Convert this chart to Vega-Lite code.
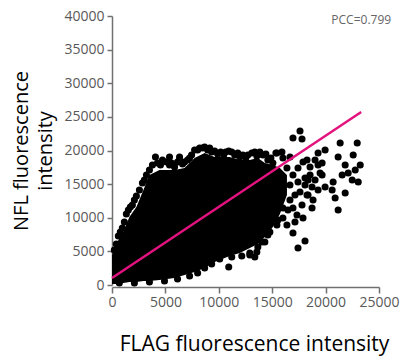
{
  "$schema": "https://vega.github.io/schema/vega-lite/v6.json",
  "width": 267,
  "height": 269,
  "autosize": {"type": "none"},
  "padding": {"left": 112, "top": 16, "right": 22, "bottom": 73},
  "background": "white",
  "config": {
    "view": {"stroke": null},
    "axis": {
      "grid": false,
      "labelFont": "Open Sans",
      "labelFontSize": 14,
      "labelColor": "#595959",
      "labelOverlap": false,
      "labelFlush": false,
      "tickColor": "#707070",
      "domainColor": "#707070",
      "domainWidth": 1.5,
      "tickWidth": 1.5,
      "titleFont": "Open Sans",
      "titleFontWeight": "normal",
      "titleColor": "#000000"
    }
  },
  "datasets": {
    "core": [
      {"x": 0, "lo": 149, "y": 4461},
      {"x": 498, "lo": 149, "y": 6394},
      {"x": 1062, "lo": 297, "y": 7881},
      {"x": 1627, "lo": 446, "y": 10112},
      {"x": 2284, "lo": 446, "y": 11599},
      {"x": 2942, "lo": 595, "y": 14127},
      {"x": 3506, "lo": 595, "y": 16357},
      {"x": 4445, "lo": 744, "y": 17101},
      {"x": 5855, "lo": 1041, "y": 17101},
      {"x": 6795, "lo": 1487, "y": 17398},
      {"x": 7735, "lo": 1933, "y": 18885},
      {"x": 8674, "lo": 2528, "y": 19628},
      {"x": 9614, "lo": 3420, "y": 19034},
      {"x": 11024, "lo": 4312, "y": 19034},
      {"x": 11964, "lo": 4758, "y": 18588},
      {"x": 12904, "lo": 5502, "y": 18588},
      {"x": 13655, "lo": 6097, "y": 18885},
      {"x": 14313, "lo": 7138, "y": 18141},
      {"x": 15065, "lo": 8625, "y": 17844},
      {"x": 15723, "lo": 10558, "y": 17398},
      {"x": 16381, "lo": 13383, "y": 16357}
    ],
    "pts": [
      {"x": 216, "y": 5205}, {"x": 404, "y": 6097}, {"x": 592, "y": 7286}, {"x": 780, "y": 7881},
      {"x": 968, "y": 8476}, {"x": 1156, "y": 9368}, {"x": 1344, "y": 10558}, {"x": 1532, "y": 11153},
      {"x": 1720, "y": 11599}, {"x": 1908, "y": 11896}, {"x": 2096, "y": 12640}, {"x": 2284, "y": 13234},
      {"x": 2566, "y": 14127}, {"x": 2848, "y": 15167}, {"x": 3036, "y": 15614}, {"x": 3224, "y": 16357},
      {"x": 3506, "y": 17101}, {"x": 3787, "y": 17844}, {"x": 4069, "y": 19034}, {"x": 4257, "y": 18141},
      {"x": 4539, "y": 17844}, {"x": 4727, "y": 18588}, {"x": 5103, "y": 18290}, {"x": 5385, "y": 17844},
      {"x": 5385, "y": 19034}, {"x": 5573, "y": 18141}, {"x": 5855, "y": 17547}, {"x": 6137, "y": 18290},
      {"x": 6325, "y": 18588}, {"x": 6325, "y": 19034}, {"x": 6607, "y": 17993}, {"x": 6795, "y": 18290},
      {"x": 7077, "y": 18588}, {"x": 7265, "y": 18885}, {"x": 7453, "y": 19331}, {"x": 7735, "y": 20075},
      {"x": 8017, "y": 20075}, {"x": 8205, "y": 20372}, {"x": 8487, "y": 20372}, {"x": 8674, "y": 20521},
      {"x": 8956, "y": 20075}, {"x": 9144, "y": 20372}, {"x": 9332, "y": 19777}, {"x": 9614, "y": 19926},
      {"x": 9896, "y": 19480}, {"x": 10178, "y": 19777}, {"x": 10460, "y": 19331}, {"x": 10648, "y": 19777},
      {"x": 10930, "y": 19926}, {"x": 11212, "y": 19777}, {"x": 11494, "y": 19331}, {"x": 11776, "y": 19628},
      {"x": 11964, "y": 19034}, {"x": 12246, "y": 19331}, {"x": 12528, "y": 18885}, {"x": 12716, "y": 19331},
      {"x": 13091, "y": 19628}, {"x": 13373, "y": 19777}, {"x": 13561, "y": 19182}, {"x": 13843, "y": 19777},
      {"x": 14125, "y": 19331}, {"x": 14407, "y": 19480}, {"x": 14595, "y": 18588}, {"x": 14877, "y": 18885},
      {"x": 15065, "y": 18141}, {"x": 15347, "y": 19628}, {"x": 15441, "y": 19628}, {"x": 15911, "y": 19777},
      {"x": 16005, "y": 18885}, {"x": 16663, "y": 19034}, {"x": 16381, "y": 17398}, {"x": 16945, "y": 16357},
      {"x": 16945, "y": 21859}, {"x": 17603, "y": 22900}, {"x": 17791, "y": 21710},
      {"x": 17885, "y": 18290}, {"x": 18073, "y": 15911}, {"x": 17603, "y": 13829}, {"x": 18261, "y": 13383},
      {"x": 17791, "y": 11896}, {"x": 16945, "y": 11450}, {"x": 17321, "y": 10409}, {"x": 17885, "y": 9963},
      {"x": 16381, "y": 8922}, {"x": 16945, "y": 7732}, {"x": 18073, "y": 6543}, {"x": 17415, "y": 5502},
      {"x": 16005, "y": 9963}, {"x": 15441, "y": 8922}, {"x": 14783, "y": 7881}, {"x": 14313, "y": 6394},
      {"x": 13561, "y": 4907}, {"x": 14783, "y": 10855}, {"x": 14125, "y": 12937}, {"x": 16663, "y": 14870},
      {"x": 17133, "y": 13383}, {"x": 16663, "y": 12640}, {"x": 16475, "y": 11153}, {"x": 17133, "y": 9368},
      {"x": 17415, "y": 15316}, {"x": 17415, "y": 17398},
      {"x": 21363, "y": 21115}, {"x": 22961, "y": 21115}, {"x": 21175, "y": 19034}, {"x": 22585, "y": 19331},
      {"x": 21833, "y": 17844}, {"x": 22115, "y": 16654}, {"x": 22773, "y": 17101}, {"x": 23243, "y": 17844},
      {"x": 23055, "y": 15316}, {"x": 22491, "y": 15614}, {"x": 21551, "y": 16357}, {"x": 20705, "y": 15316},
      {"x": 20611, "y": 14127}, {"x": 21833, "y": 13680}, {"x": 20893, "y": 12937}, {"x": 21175, "y": 11153},
      {"x": 19953, "y": 20075}, {"x": 19295, "y": 19628}, {"x": 19013, "y": 18588}, {"x": 19671, "y": 18141},
      {"x": 19483, "y": 16654}, {"x": 19953, "y": 14573}, {"x": 19295, "y": 14127}, {"x": 18731, "y": 14573},
      {"x": 18825, "y": 12640}, {"x": 18731, "y": 11450}, {"x": 18355, "y": 15614}, {"x": 18543, "y": 17547},
      {"x": 18261, "y": 18588}, {"x": 18543, "y": 16357}, {"x": 19013, "y": 15614}, {"x": 18073, "y": 14870},
      {"x": 18355, "y": 13383}, {"x": 19295, "y": 17844}, {"x": 19671, "y": 16357},
      {"x": 686, "y": 297}, {"x": 2096, "y": 297}, {"x": 3506, "y": 446}, {"x": 4915, "y": 595},
      {"x": 6137, "y": 892}, {"x": 7265, "y": 1338}, {"x": 8017, "y": 1784}, {"x": 8674, "y": 2528},
      {"x": 9332, "y": 3123}, {"x": 10084, "y": 3866}, {"x": 10930, "y": 2677}, {"x": 11212, "y": 4164},
      {"x": 12152, "y": 4312}, {"x": 12904, "y": 4758}, {"x": 13373, "y": 4164}, {"x": 13655, "y": 5651},
      {"x": 12904, "y": 4461}, {"x": 14031, "y": 6394}, {"x": 14595, "y": 7435}, {"x": 15535, "y": 9666},
      {"x": 16005, "y": 11450}
    ],
    "fit": [
      {"x": 0, "y": 1041},
      {"x": 23335, "y": 25725}
    ],
    "ann": [
      {"x": 23335, "y": 39400, "label": "PCC=0.799"}
    ]
  },
  "encoding": {
    "x": {
      "field": "x", "type": "quantitative",
      "scale": {"domain": [0, 25000], "nice": false},
      "axis": {
        "values": [0, 5000, 10000, 15000, 20000, 25000],
        "format": "d",
        "tickSize": 6,
        "labelPadding": 2,
        "labelOverlap": false,
        "offset": 2,
        "title": "FLAG fluorescence intensity",
        "titleFontSize": 21,
        "titlePadding": 24,
        "titleX": 142
      }
    },
    "y": {
      "field": "y", "type": "quantitative",
      "scale": {"domain": [0, 40000], "nice": false},
      "axis": {
        "values": [0, 5000, 10000, 15000, 20000, 25000, 30000, 35000, 40000],
        "format": "d",
        "tickSize": 5,
        "labelPadding": 3,
        "labelOverlap": false,
        "title": ["NFL fluorescence", "intensity"],
        "titleFontSize": 20,
        "titlePadding": 8,
        "titleLineHeight": 24
      }
    }
  },
  "layer": [
    {
      "data": {"name": "core"},
      "mark": {"type": "area", "color": "#000000", "opacity": 1},
      "encoding": {
        "y2": {"field": "lo"}
      }
    },
    {
      "data": {"name": "pts"},
      "mark": {"type": "point", "filled": true, "shape": "circle", "size": 50, "color": "#000000", "opacity": 1}
    },
    {
      "data": {"name": "fit"},
      "mark": {"type": "line", "color": "#e2127f", "strokeWidth": 2.5}
    },
    {
      "data": {"name": "ann"},
      "mark": {"type": "text", "font": "Open Sans", "fontSize": 12, "color": "#666666", "align": "center", "baseline": "middle"},
      "encoding": {
        "text": {"field": "label"}
      }
    }
  ]
}
